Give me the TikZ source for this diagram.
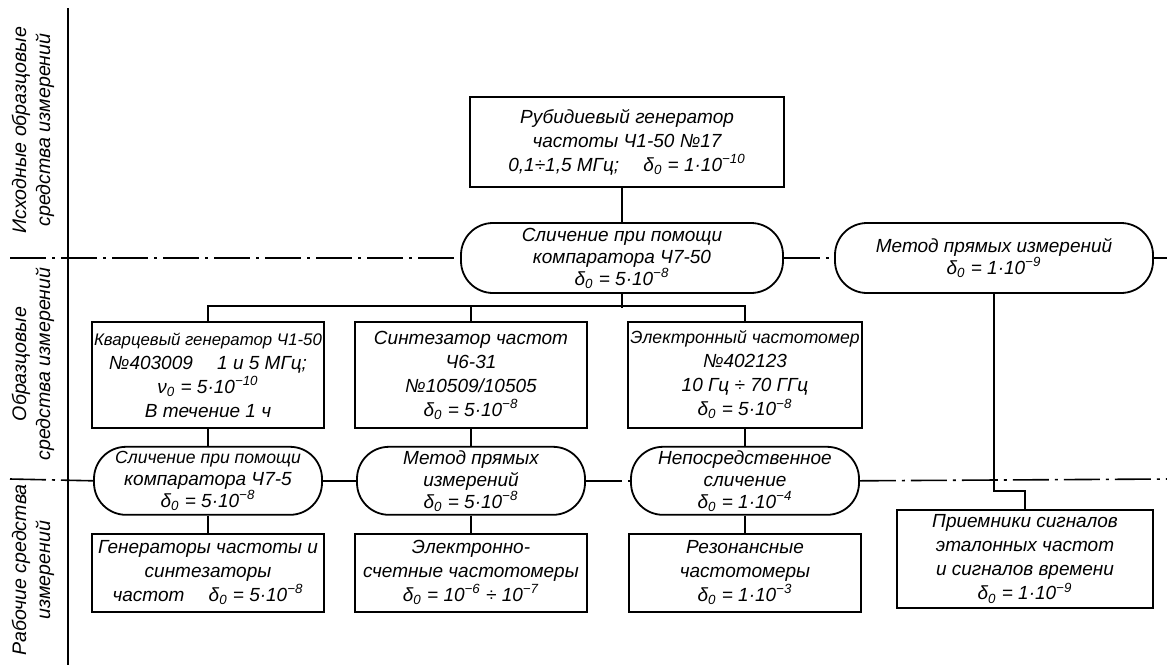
\documentclass[tikz,border=0pt]{standalone}
\usepackage{fontspec}
\setmainfont{Liberation Sans}
\usetikzlibrary{positioning}
\newcommand{\dzero}{δ\textsubscript{0}}
\tikzset{
    % boxes for the measuring instruments and the comparison methods
    unitbox/.style = {rectangle, draw, line width=0.9pt, minimum width=116pt, minimum height=53pt, inner sep=1pt, align=center},
    methodnode/.style = {rectangle, rounded corners=16pt, draw, line width=0.9pt, minimum width=114pt, minimum height=34pt, inner sep=0.5pt, align=center, font=\fontsize{9.5}{11}\selectfont\itshape},
    workbox/.style = {rectangle, draw, line width=0.9pt, minimum width=116pt, minimum height=39pt, inner sep=1pt, align=center},
    levellabel/.style = {rotate=90, align=center, font=\fontsize{9.8}{12}\selectfont\itshape},
    divider/.style = {line width=0.8pt, dash pattern=on 18pt off 3pt on 1.5pt off 3pt},
    link/.style = {line width=0.8pt}
}

\begin{document}
\begin{tikzpicture}[x=0.5pt, y=-0.5pt, node distance=8.5pt, every node/.style={font=\fontsize{9.5}{12}\selectfont\itshape}]
\useasboundingbox (0,0) rectangle (1167,665);

% level labels
\node[levellabel] (lvlsource) at (33,130) {Исходные образцовые\\средства измерений};
\node[levellabel] (lvlref) at (33,364) {Образцовые\\средства измерений};
\node[levellabel] (lvlwork) at (33,570) {Рабочие средства\\измерений};
\draw[link] (68,8) -- (68,665);

% source standard
\node[unitbox, minimum width=157pt, minimum height=45pt] (rubidium) at (627,142) {Рубидиевый генератор\\частоты Ч1-50 №17\\0,1÷1,5 МГц; \quad \dzero{} = 1·10\textsuperscript{−10}};
\node[methodnode, minimum width=161pt, minimum height=35pt] (compare) at (622,258) {Сличение при помощи\\компаратора Ч7-50\\\dzero{} = 5·10\textsuperscript{−8}};
\node[methodnode, minimum width=159pt, minimum height=35pt] (direct) at (994,258) {Метод прямых измерений\\\dzero{} = 1·10\textsuperscript{−9}};

% reference instruments
\node[unitbox] (quartz) at (208,375) {{\fontsize{8.4}{12}\selectfont Кварцевый генератор Ч1-50}\\№403009 \quad 1 и 5 МГц;\\ν\textsubscript{0} = 5·10\textsuperscript{−10}\\В течение 1 ч};
\node[unitbox] (synth) at (471,375) {Синтезатор частот\\Ч6-31\\№10509/10505\\\dzero{} = 5·10\textsuperscript{−8}};
\node[unitbox] (counter) at (745,375) {{\fontsize{8.8}{12}\selectfont Электронный частотомер}\\№402123\\10 Гц ÷ 70 ГГц\\\dzero{} = 5·10\textsuperscript{−8}};

\node[methodnode, below=of quartz] (compareb) {{\fontsize{8.8}{11}\selectfont Сличение при помощи}\\компаратора Ч7-5\\\dzero{} = 5·10\textsuperscript{−8}};
\node[methodnode, below=of synth] (directb) {Метод прямых\\измерений\\\dzero{} = 5·10\textsuperscript{−8}};
\node[methodnode, below=of counter] (immediate) {Непосредственное\\сличение\\\dzero{} = 1·10\textsuperscript{−4}};

% working instruments
\node[workbox, below=of compareb] (generators) {Генераторы частоты и\\синтезаторы\\частот \quad \dzero{} = 5·10\textsuperscript{−8}};
\node[workbox, below=of directb] (counters) {Электронно-\\счетные частотомеры\\\dzero{} = 10\textsuperscript{−6} ÷ 10\textsuperscript{−7}};
\node[workbox, below=of immediate] (resonant) {Резонансные\\частотомеры\\\dzero{} = 1·10\textsuperscript{−3}};
\node[workbox, minimum width=128pt, minimum height=49pt] (receivers) at (1025,559) {Приемники сигналов\\эталонных частот\\и сигналов времени\\\dzero{} = 1·10\textsuperscript{−9}};

% level borders
\draw[divider] (10,258) -- (compare.west);
\draw[divider] (compare.east) -- (direct.west);
\draw[divider] (direct.east) -- (1167,258);
\draw[divider] (10,479) -- (compareb.west);
\draw[divider] (compareb.east) -- (directb.west);
\draw[divider] (directb.east) -- (immediate.west);
\draw[divider] (immediate.east) -- (1167,479);

% connections
\draw[link] (rubidium.south -| compare.north) -- (compare.north);
\draw[link] (compare.south) -- ++(0,14);
\draw[link] (quartz.north) -- ++(0,-15) -| (counter.north);
\draw[link] (synth.north) -- ++(0,-15);
\draw[link] (quartz) -- (compareb);
\draw[link] (synth) -- (directb);
\draw[link] (counter) -- (immediate);
\draw[link] (compareb) -- (generators);
\draw[link] (directb) -- (counters);
\draw[link] (immediate) -- (resonant);
\draw[link] (direct.south) -- ++(0,197) -| (receivers.north);

\end{tikzpicture}
\end{document}
